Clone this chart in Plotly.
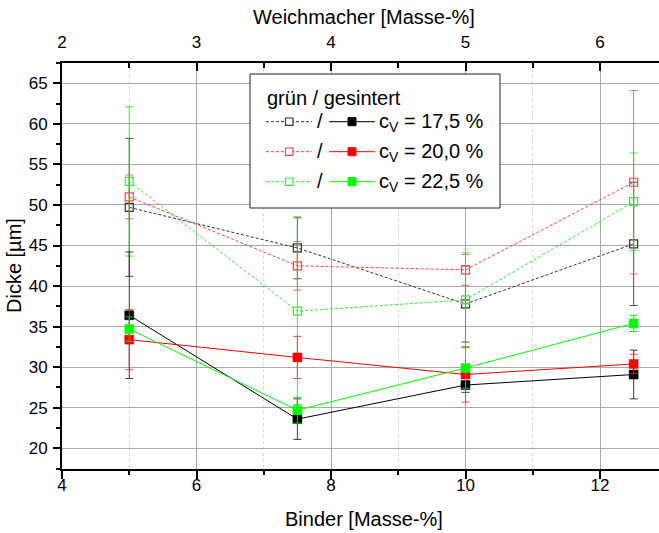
import plotly.graph_objects as go

# ---------------- data ----------------
binder = [5, 7.5, 10, 12.5]                 # Binder [Masse-%]
weichmacher = [2.5, 3.75, 5, 6.25]          # Weichmacher [Masse-%] (top axis)

gruen_175 = [49.7, 44.7, 37.8, 45.2]
gruen_175_err = [8.5, 3.8, 4.7, 7.6]
gruen_200 = [51.0, 42.5, 42.0, 52.8]
gruen_200_err = [2.7, 3.0, 1.9, 11.3]
gruen_225 = [52.9, 36.9, 38.3, 50.4]
gruen_225_err = [9.2, 11.5, 5.8, 6.0]

ges_175 = [36.4, 23.6, 27.8, 29.1]
ges_175_err = [7.8, 2.5, 0.9, 3.0]
ges_200 = [33.4, 31.2, 29.1, 30.4]
ges_200_err = [3.7, 2.6, 3.4, 1.2]
ges_225 = [34.7, 24.7, 29.9, 35.4]
ges_225_err = [1.5, 1.6, 2.5, 1.0]

legend_labels = ["c<sub>V</sub> = 17,5 %", "c<sub>V</sub> = 20,0 %", "c<sub>V</sub> = 22,5 %"]
legend_title = "grün / gesintert"

FONT = "Liberation Sans, Arial, sans-serif"
BLACK = "#000000"
RED = "#ff0000"
GREEN = "#00ff00"

# plot-area geometry (pixels)
W, H = 659, 533
L, R, T, B = 62, 659, 63, 469


def px(x):
    return (x - L) / (R - L)


def py(y):
    return (B - y) / (B - T)


fig = go.Figure()

open_series = [
    (gruen_175, gruen_175_err, "#333333", "rgba(60,60,60,0.9)"),
    (gruen_200, gruen_200_err, "#ff4040", "rgba(255,60,60,0.75)"),
    (gruen_225, gruen_225_err, "#33ee33", "rgba(0,240,0,0.8)"),
]
filled_series = [
    (ges_175, ges_175_err, BLACK, "rgba(40,40,40,0.9)"),
    (ges_200, ges_200_err, RED, "rgba(255,40,40,0.85)"),
    (ges_225, ges_225_err, GREEN, "rgba(0,230,0,0.9)"),
]

for vals, err, col, ecol in open_series:
    fig.add_trace(go.Scatter(
        x=binder, y=vals, mode="lines+markers",
        line=dict(color=col, width=1, dash="3px,2px"),
        marker=dict(symbol="square-open", size=8, color=col, line=dict(width=1.2, color=col)),
        error_y=dict(type="data", array=err, visible=True, color=ecol, thickness=1, width=4),
        showlegend=False, hoverinfo="skip",
    ))

for vals, err, col, ecol in filled_series:
    fig.add_trace(go.Scatter(
        x=binder, y=vals, mode="lines+markers",
        line=dict(color=col, width=1),
        marker=dict(symbol="square", size=9, color=col, line=dict(width=0.5, color=col)),
        error_y=dict(type="data", array=err, visible=True, color=ecol, thickness=1, width=4),
        showlegend=False, hoverinfo="skip",
    ))

# invisible trace to carry the top (Weichmacher) axis
fig.add_trace(go.Scatter(
    x=weichmacher, y=ges_175, xaxis="x2", mode="markers",
    marker=dict(opacity=0), showlegend=False, hoverinfo="skip",
))

xr = [4, 4 + (R - L) / 67.25]
yr = [17.45, 67.5]

fig.update_layout(
    width=W, height=H,
    margin=dict(l=L, r=W - R, t=T, b=H - B, pad=0),
    paper_bgcolor="white", plot_bgcolor="white",
    font=dict(family=FONT, size=17, color="black"),
    xaxis=dict(
        range=xr, dtick=2, tick0=0, showgrid=True, gridcolor="#a8a8a8", gridwidth=1,
        showline=True, linecolor="black", linewidth=2, mirror=False,
        ticks="outside", ticklen=8, tickwidth=1.5, tickcolor="black",
        tickfont=dict(size=17, family=FONT), zeroline=False, ticklabelstandoff=-8,
        minor=dict(dtick=1, tick0=0, ticks="outside", ticklen=4, tickwidth=1.5, tickcolor="black",
                   showgrid=True, gridcolor="#d8d8d8", griddash="dot", gridwidth=1),
    ),
    xaxis2=dict(
        range=[xr[0] / 2, xr[1] / 2], overlaying="x", side="top", anchor="y",
        dtick=1, tick0=0, showgrid=False, showline=True, linecolor="black", linewidth=2,
        ticks="inside", ticklen=8, tickwidth=1.5, tickcolor="black",
        tickfont=dict(size=17, family=FONT), zeroline=False, ticklabelstandoff=6,
        minor=dict(dtick=0.5, tick0=0, ticks="inside", ticklen=5, tickwidth=1.5, tickcolor="black",
                   showgrid=False),
    ),
    yaxis=dict(
        range=yr, dtick=5, tick0=0, showgrid=True, gridcolor="#a8a8a8", gridwidth=1,
        showline=True, linecolor="black", linewidth=2, mirror=False,
        ticks="outside", ticklen=7, tickwidth=1.5, tickcolor="black",
        tickfont=dict(size=17, family=FONT), zeroline=False, ticklabelstandoff=2,
        minor=dict(dtick=2.5, tick0=0, ticks="outside", ticklen=4, tickwidth=1.5, tickcolor="black",
                   showgrid=False),
    ),
)

annotations = [
    dict(text="Binder [Masse-%]", x=px(364), y=py(519), xref="paper", yref="paper",
         xanchor="center", yanchor="middle", showarrow=False, font=dict(size=20)),
    dict(text="Weichmacher [Masse-%]", x=px(364), y=py(17), xref="paper", yref="paper",
         xanchor="center", yanchor="middle", showarrow=False, font=dict(size=20)),
    dict(text="Dicke [µm]", x=px(14), y=py(266), xref="paper", yref="paper", textangle=-90,
         xanchor="center", yanchor="middle", showarrow=False, font=dict(size=20)),
    dict(text=legend_title, x=px(265), y=py(98), xref="paper", yref="paper",
         xanchor="left", yanchor="middle", showarrow=False, font=dict(size=20)),
]

shapes = [
    dict(type="rect", xref="paper", yref="paper", x0=px(250), x1=px(500), y0=py(208), y1=py(74),
         line=dict(color="#222222", width=1), fillcolor="white", layer="above"),
]

row_y = [121.7, 151.7, 181.7]
for (vals, err, ocol, _), (fv, fe, fcol, _), lab, yy in zip(open_series, filled_series, legend_labels, row_y):
    shapes.append(dict(type="line", xref="paper", yref="paper", x0=px(266), x1=px(312), y0=py(yy), y1=py(yy),
                       line=dict(color=ocol, width=1, dash="3px,2px"), layer="above"))
    shapes.append(dict(type="rect", xref="paper", yref="paper", x0=px(285.5), x1=px(293), y0=py(yy + 3.7),
                       y1=py(yy - 3.7), line=dict(color=ocol, width=1.2), fillcolor="white", layer="above"))
    shapes.append(dict(type="line", xref="paper", yref="paper", x0=px(329), x1=px(375), y0=py(yy), y1=py(yy),
                       line=dict(color=fcol, width=1), layer="above"))
    shapes.append(dict(type="rect", xref="paper", yref="paper", x0=px(348), x1=px(356), y0=py(yy + 4),
                       y1=py(yy - 4), line=dict(color=fcol, width=1), fillcolor=fcol, layer="above"))
    annotations.append(dict(text="/", x=px(320), y=py(yy - 1), xref="paper", yref="paper",
                            xanchor="center", yanchor="middle", showarrow=False, font=dict(size=20)))
    annotations.append(dict(text=lab, x=px(377), y=py(yy + 1), xref="paper", yref="paper",
                            xanchor="left", yanchor="middle", showarrow=False, font=dict(size=20)))

fig.update_layout(annotations=annotations, shapes=shapes)

fig.write_html("out.html")
